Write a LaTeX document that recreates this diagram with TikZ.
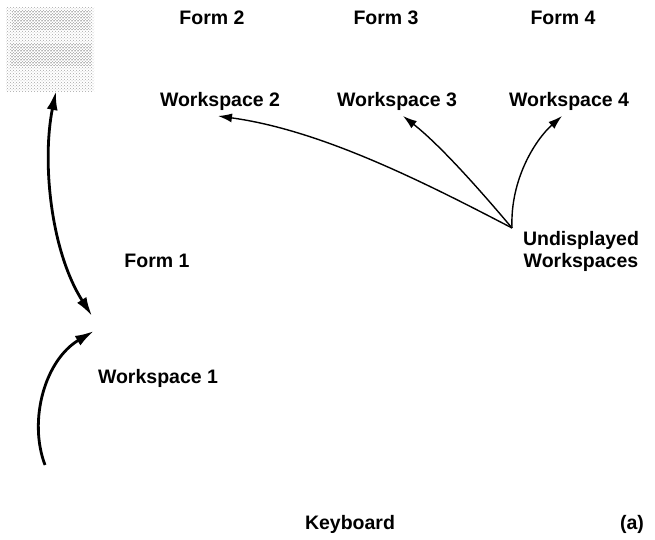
\documentclass[tikz,border=0pt]{standalone}
\usepackage{fontspec}
\setmainfont{Liberation Sans}
\usetikzlibrary{arrows.meta,patterns}
\begin{document}
\begin{tikzpicture}[x=1pt,y=-1pt,
  lbl/.style={font=\fontsize{19.5}{22}\selectfont\bfseries, inner sep=0pt, align=center},
  bighead/.tip={Latex[length=19pt,width=11pt]},
  smallhead/.tip={Latex[length=14pt,width=9pt]},
  thickarr/.style={line width=2.8pt, -bighead},
  thinarr/.style={line width=1.4pt, -smallhead}]
\useasboundingbox (0,0) rectangle (655,540);
% scanned patch
\fill[pattern=crosshatch dots, pattern color=gray!70] (6,8) rectangle (94,92);
\fill[pattern=dots, pattern color=black] (12,12) rectangle (90,30);
\fill[pattern=dots, pattern color=black] (10,44) rectangle (92,66);
% labels
\node[lbl] (f2) at (212,18) {Form 2};
\node[lbl] (f3) at (386,18) {Form 3};
\node[lbl] (f4) at (563,18) {Form 4};
\node[lbl] (w2) at (220,101) {Workspace 2};
\node[lbl] (w3) at (397,101) {Workspace 3};
\node[lbl] (w4) at (569,101) {Workspace 4};
\node[lbl] (f1) at (157,261) {Form 1};
\node[lbl] (uw) at (581,251) {Undisplayed\\Workspaces};
\node[lbl] (w1) at (158,378) {Workspace 1};
\node[lbl] (kb) at (350,524) {Keyboard};
\node[lbl] (a) at (632,524) {(a)};
% anchor coordinates
\coordinate (src) at (512,228);
\coordinate (top) at (56,91);
\coordinate (mid) at (92,316);
\coordinate (bot) at (45,465);
\coordinate (mid2) at (94,331);
\coordinate (e2) at (218,116);
\coordinate (e3) at (403,116);
\coordinate (e4) at (562,116);
% arrows
\draw[thickarr, bighead-bighead] (top) .. controls (42,160) and (50,250) .. (mid);
\draw[thickarr] (bot) .. controls (28,420) and (45,360) .. (mid2);
\draw[thinarr] (src) .. controls (420,180) and (320,130) .. (e2);
\draw[thinarr] (src) .. controls (480,190) and (440,145) .. (e3);
\draw[thinarr] (src) .. controls (510,180) and (535,140) .. (e4);
\end{tikzpicture}
\end{document}
